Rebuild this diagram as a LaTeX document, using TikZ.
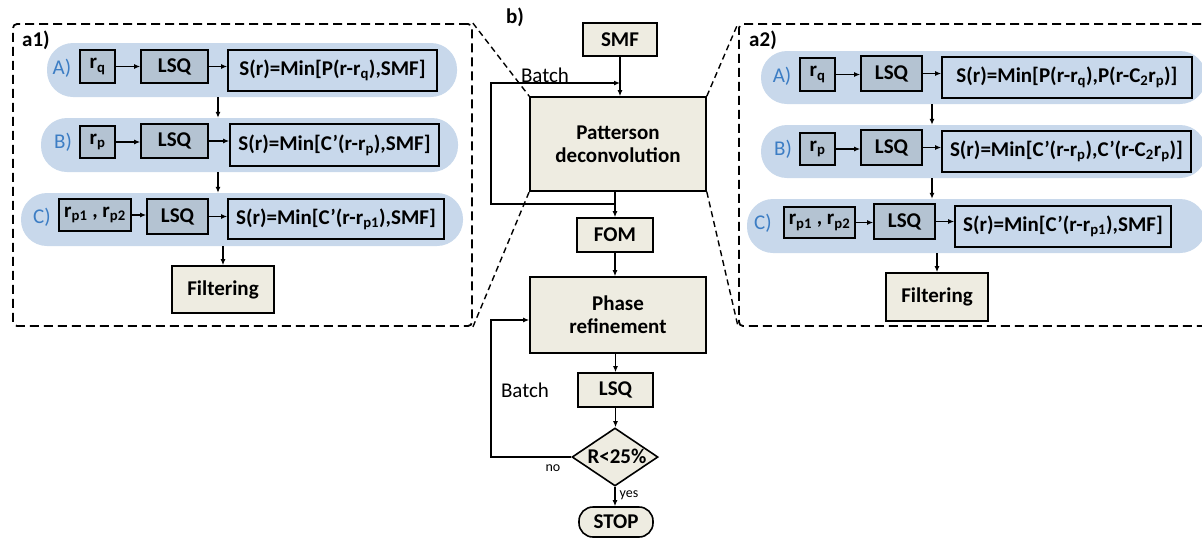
\documentclass[tikz,border=0pt]{standalone}
\usepackage{fontspec}
\setmainfont{Carlito}
\usetikzlibrary{arrows.meta,shapes.geometric,calc}

\definecolor{bandblue}{HTML}{C8D8EB}
\definecolor{boxgrey}{HTML}{B4C3D2}
\definecolor{beige}{HTML}{EEECE1}
\definecolor{labelblue}{HTML}{3C7DC4}

\newcommand\lo[1]{\textsubscript{#1}}

\begin{document}
\begin{tikzpicture}[x=1pt,y=-1pt,
  txt/.style={font=\fontsize{21}{23}\selectfont},
  bold/.style={font=\bfseries\fontsize{21}{23}\selectfont},
  dims/.style n args={2}{minimum width=#1pt, minimum height=#2pt},
  band/.style={fill=bandblue, draw=none, inner sep=0pt, rounded corners=26pt},
  box/.style={draw, line width=1.6pt, inner sep=0pt, bold},
  small/.style={box, fill=boxgrey},
  sbox/.style={box, fill=bandblue},
  proc/.style={box, fill=beige, align=center},
  tag/.style={txt, text=labelblue, inner sep=0pt},
  frame/.style={draw, line width=1.8pt, dash pattern=on 9pt off 5pt, rounded corners=4pt, inner sep=0pt},
  link/.style={line width=1.4pt, dash pattern=on 6pt off 4pt},
  arr/.style={line width=1.2pt, -{Latex[length=6pt,width=5pt]}},
  line/.style={line width=1.2pt}
]
\useasboundingbox (0,0) rectangle (1202,539);
\clip (0,0) rectangle (1202,539);

% ---------- panel a1 ----------
\node[frame, dims={459}{302}] (fa1) at (242.5,175) {};
\node[bold, inner sep=0pt] (la1) at (36,40) {a1)};

\node[band, dims={410}{54}] (bandA1) at (252,70) {};
\node[band, dims={417}{54}] (bandB1) at (249.5,145) {};
\node[band, dims={442}{53}] (bandC1) at (242,219.5) {};

\node[tag] (tA1) at (62,68) {A)};
\node[small, dims={35}{33}] (rqA1) at (97.5,66.5) {r\lo{q}};
\node[small, dims={67}{33}] (lsqA1) at (174.5,66.5) {LSQ};
\node[sbox, dims={209}{41}] (sA1) at (332.5,70.5) {S(r)=Min[P(r-r\lo{q}),SMF]};
\draw[arr] (rqA1) -- (lsqA1);
\draw[arr] (lsqA1.east) -- (lsqA1.east -| sA1.west);

\node[tag] (tB1) at (63,142) {B)};
\node[small, dims={35}{32}] (rpB1) at (97.5,142) {r\lo{p}};
\node[small, dims={67}{34}] (lsqB1) at (174.5,141) {LSQ};
\node[sbox, dims={209}{42}] (sB1) at (334.5,145) {S(r)=Min[C’(r-r\lo{p}),SMF]};
\draw[arr] (rpB1.east) -- (rpB1.east -| lsqB1.west);
\draw[arr] (lsqB1.east) -- (lsqB1.east -| sB1.west);

\node[tag] (tC1) at (42,217) {C)};
\node[small, dims={72}{32}] (rpC1) at (95,215) {r\lo{p1} , r\lo{p2}};
\node[small, dims={61}{35}] (lsqC1) at (177.5,216.5) {LSQ};
\node[sbox, dims={216}{40}] (sC1) at (336,219) {S(r)=Min[C’(r-r\lo{p1}),SMF]};
\draw[arr] (rpC1.east) -- (rpC1.east -| lsqC1.west);
\draw[arr] (lsqC1.east) -- (lsqC1.east -| sC1.west);

\node[proc, dims={102}{47}] (filt1) at (223,289.5) {Filtering};

\coordinate (dA1) at ([xshift=-34pt]bandA1.south);
\coordinate (dB1) at ([xshift=-31.5pt]bandB1.south);
\draw[arr] (dA1) -- (dA1 |- bandB1.north);
\draw[arr] (dB1) -- (dB1 |- bandC1.north);
\draw[arr] (filt1.north |- bandC1.south) -- (filt1.north);

% ---------- panel b ----------
\node[bold, inner sep=0pt] (lb) at (515,17) {b)};
\node[proc, dims={74}{33}] (smf) at (620,39.5) {SMF};
\node[proc, dims={176}{94}] (pat) at (618,144) {Patterson\\deconvolution};
\node[proc, dims={76}{34}] (fom) at (615,235) {FOM};
\node[proc, dims={176}{76}] (phase) at (618,315) {Phase\\refinement};
\node[proc, dims={75}{34}] (lsq) at (615.5,390) {LSQ};
\node[draw, line width=1.6pt, fill=beige, diamond, aspect=1.48, dims={86}{58}, inner sep=0pt] (dia) at (615,457) {};
\node[bold, inner sep=0pt] (diatxt) at (617,456) {R<25\%};
\node[proc, dims={74}{30}, rounded corners=14pt] (stop) at (616,522) {STOP};

\coordinate (l1a) at (491,204);
\coordinate (l1b) at (491,83);
\coordinate (l2a) at (491,457);
\coordinate (l2b) at (491,320);

\draw[arr] (smf.south) -- (smf.south |- pat.north);
\draw[arr] (fom.north |- pat.south) -- (fom.north);
\draw[arr] (fom.north |- l1a) -- (l1a) -- (l1b) -- (smf.south |- l1b);
\node[txt, inner sep=0pt] (batch1) at (545,75) {Batch};
\draw[arr] (fom.south) -- (fom.south |- phase.north);
\draw[arr] (lsq.north |- phase.south) -- (lsq.north);
\draw[arr] (lsq.south) -- (lsq.south |- dia.north);
\draw[arr] (dia.west) -- (l2a) -- (l2b) -- (l2b -| phase.west);
\node[txt, inner sep=0pt] (batch2) at (525,390) {Batch};
\draw[arr] (dia.south) -- (dia.south |- stop.north);
\node[font=\fontsize{14}{16}\selectfont, inner sep=0pt] (no) at (553,468) {no};
\node[font=\fontsize{14}{16}\selectfont, inner sep=0pt] (yes) at (629,495) {yes};

% ---------- panel a2 ----------
\node[frame, dims={480}{302}] (fa2) at (979,175) {};
\node[bold, inner sep=0pt] (la2) at (763,40) {a2)};

\node[band, dims={445}{53}] (bandA2) at (983.5,77.5) {};
\node[band, dims={445}{53}] (bandB2) at (983.5,151.5) {};
\node[band, dims={459}{54}] (bandC2) at (976.5,226) {};

\node[tag] (tA2) at (782,76) {A)};
\node[small, dims={35}{33}] (rqA2) at (817.5,74.5) {r\lo{q}};
\node[small, dims={61}{35}] (lsqA2) at (891.5,73.5) {LSQ};
\node[sbox, dims={250}{41}] (sA2) at (1067,77.5) {S(r)=Min[P(r-r\lo{q}),P(r-C\lo{2}r\lo{p})]};
\draw[arr] (rqA2.east) -- (rqA2.east -| lsqA2.west);
\draw[arr] (lsqA2.east) -- (lsqA2.east -| sA2.west);

\node[tag] (tB2) at (783,149) {B)};
\node[small, dims={35}{32}] (rpB2) at (817.5,149) {r\lo{p}};
\node[small, dims={61}{35}] (lsqB2) at (891.5,147.5) {LSQ};
\node[sbox, dims={249}{41}] (sB2) at (1066.5,151.5) {S(r)=Min[C’(r-r\lo{p}),C’(r-C\lo{2}r\lo{p})]};
\draw[arr] (rpB2.east) -- (rpB2.east -| lsqB2.west);
\draw[arr] (lsqB2.east) -- (lsqB2.east -| sB2.west);

\node[tag] (tC2) at (763,223) {C)};
\node[small, dims={71}{31}] (rpC2) at (819.5,222.5) {r\lo{p1} , r\lo{p2}};
\node[small, dims={61}{35}] (lsqC2) at (904.5,221.5) {LSQ};
\node[sbox, dims={216}{41}] (sC2) at (1063,226.5) {S(r)=Min[C’(r-r\lo{p1}),SMF]};
\draw[arr] (rpC2.east) -- (rpC2.east -| lsqC2.west);
\draw[arr] (lsqC2.east) -- (lsqC2.east -| sC2.west);

\node[proc, dims={102}{48}] (filt2) at (937,297) {Filtering};

\coordinate (dA2) at ([xshift=-51.5pt]bandA2.south);
\coordinate (dB2) at ([xshift=-51.5pt]bandB2.south);
\draw[arr] (dA2) -- (dA2 |- bandB2.north);
\draw[arr] (dB2) -- (dB2 |- bandC2.north);
\draw[arr] (filt2.north |- bandC2.south) -- (filt2.north);

% ---------- zoom lines ----------
\draw[link] (fa1.north east) -- (pat.north west);
\draw[link] (fa1.south east) -- (pat.south west);
\draw[link] (pat.north east) -- (fa2.north west);
\draw[link] (pat.south east) -- (fa2.south west);
\end{tikzpicture}
\end{document}
